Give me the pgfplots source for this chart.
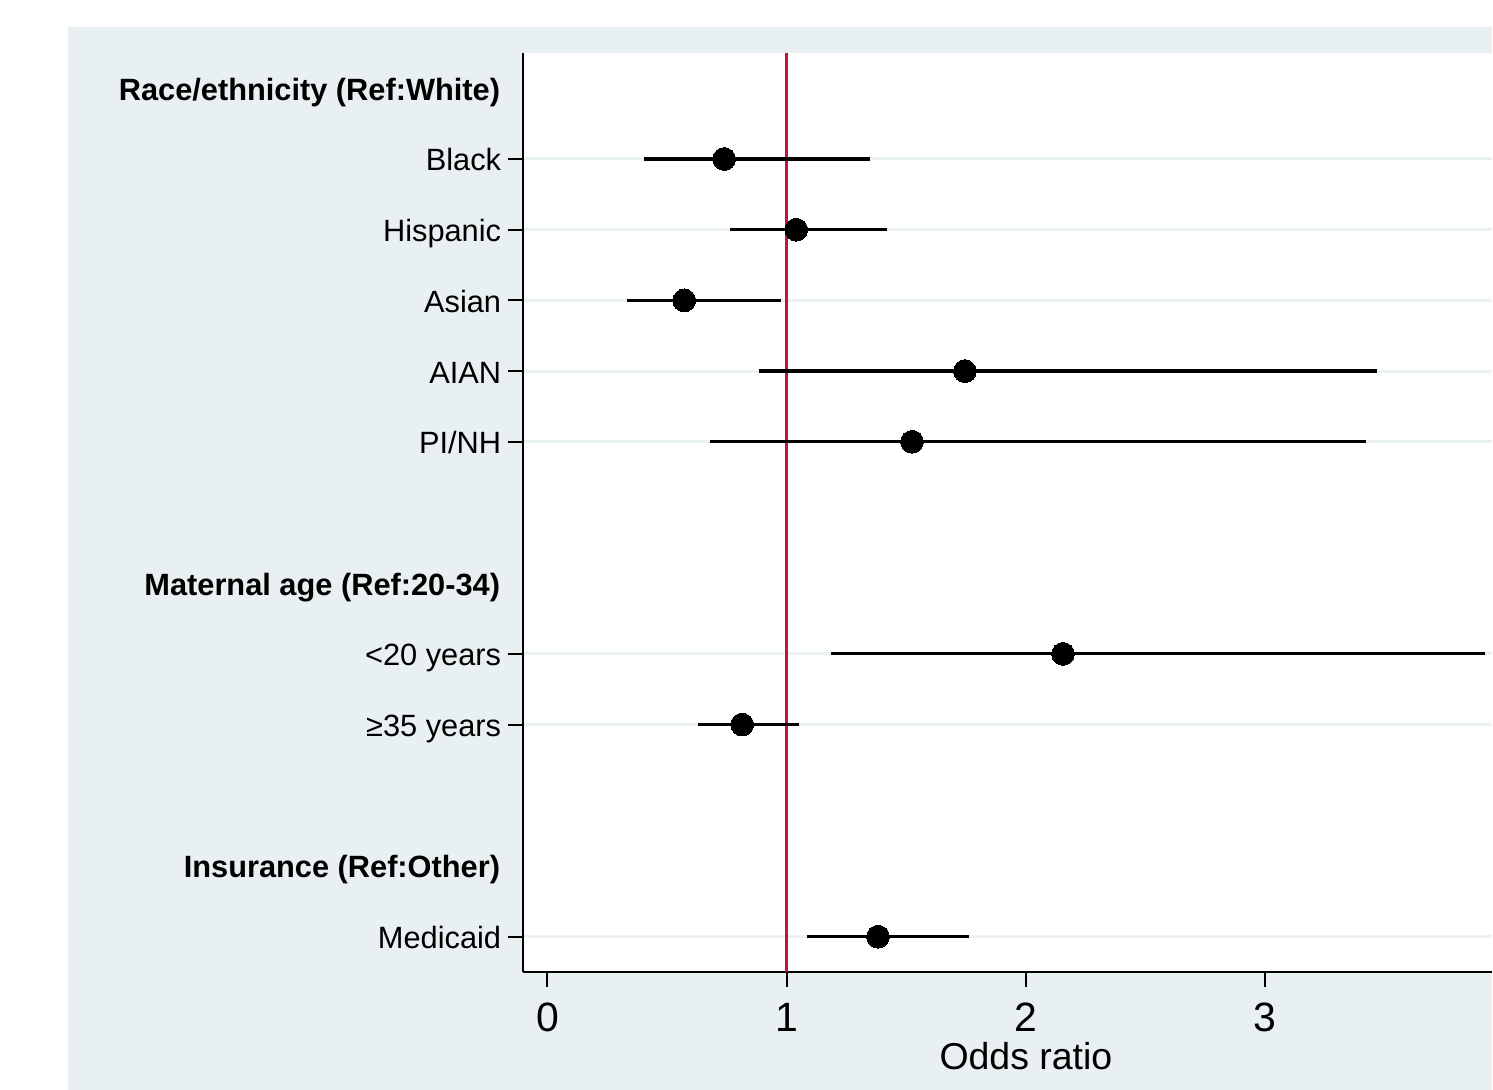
\documentclass[border=0pt]{standalone}
\usepackage{pgfplots}
\usepackage{pgfplotstable}
\pgfplotsset{compat=1.18}
\usepackage{fontspec}
\setmainfont{Liberation Sans}
\definecolor{bgc}{RGB}{232,240,242}
\definecolor{gridc}{RGB}{234,242,243}
\definecolor{redc}{RGB}{200,16,60}

% row: position from bottom; or: odds ratio; lo/hi: 95% CI
\pgfplotstableread{
row or lo hi
12 0.739 0.405 1.349
11 1.040 0.764 1.420
10 0.572 0.334 0.977
9 1.745 0.885 3.466
8 1.524 0.681 3.420
5 2.155 1.186 3.917
4 0.814 0.630 1.052
1 1.382 1.086 1.762
}\datatab

\begin{document}
\begin{tikzpicture}
\path (0,0) rectangle (746.5pt,545.5pt);
\fill[bgc] (34pt,0) rectangle (746.5pt,532pt);
\begin{axis}[
  at={(262pt,59pt)}, anchor=south west,
  width=484.5pt, height=460pt, scale only axis,
  xmin=-0.1, xmax=3.946, ymin=0.5, ymax=13.5,
  axis x line*=bottom, axis y line*=left,
  axis line style={line width=1pt, black, -},
  axis background/.style={fill=white},
  tick align=outside,
  major tick length=7.5pt,
  tick style={line width=1pt, black},
  xtick={0,1,2,3},
  ytick={1,4,5,8,9,10,11,12},
  yticklabels={Medicaid,{≥35 years},{<20 years},PI/NH,AIAN,Asian,Hispanic,Black},
  yticklabel style={anchor=base east, inner sep=0pt, xshift=-3.5pt, yshift=-6pt, font=\fontsize{15.4}{18}\selectfont},
  xticklabel style={anchor=north, inner sep=0pt, yshift=-8pt, font=\fontsize{20.5}{24}\selectfont},
  /pgf/number format/assume math mode=true,
  ymajorgrids, grid style={gridc, line width=1.5pt},
  xlabel={Odds ratio},
  xlabel style={at={(axis cs:2,0.5)}, anchor=base, inner sep=0pt, yshift=-49pt, font=\fontsize{18.75}{22}\selectfont},
  clip=false,
]
\addplot[redc, line width=1.8pt] coordinates {(1,0.5) (1,13.5)};
\addplot[only marks, mark=*, mark size=5.7pt, mark options={fill=black, draw=black, line width=0pt},
  error bars/.cd, x dir=both, x explicit, error mark=none,
  error bar style={line width=1.6pt, black}]
  table[x=or, y=row, x error plus expr=\thisrow{hi}-\thisrow{or}, x error minus expr=\thisrow{or}-\thisrow{lo}] {\datatab};
\node[anchor=base east, inner sep=0pt, yshift=-6pt, font=\bfseries\fontsize{15.4}{18}\selectfont] at ([xshift=-11.5pt]axis cs:-0.1,13) {Race/ethnicity (Ref:White)};
\node[anchor=base east, inner sep=0pt, yshift=-6pt, font=\bfseries\fontsize{15.4}{18}\selectfont] at ([xshift=-11.5pt]axis cs:-0.1,6) {Maternal age (Ref:20-34)};
\node[anchor=base east, inner sep=0pt, yshift=-6pt, font=\bfseries\fontsize{15.4}{18}\selectfont] at ([xshift=-11.5pt]axis cs:-0.1,2) {Insurance (Ref:Other)};
\end{axis}
\end{tikzpicture}
\end{document}
